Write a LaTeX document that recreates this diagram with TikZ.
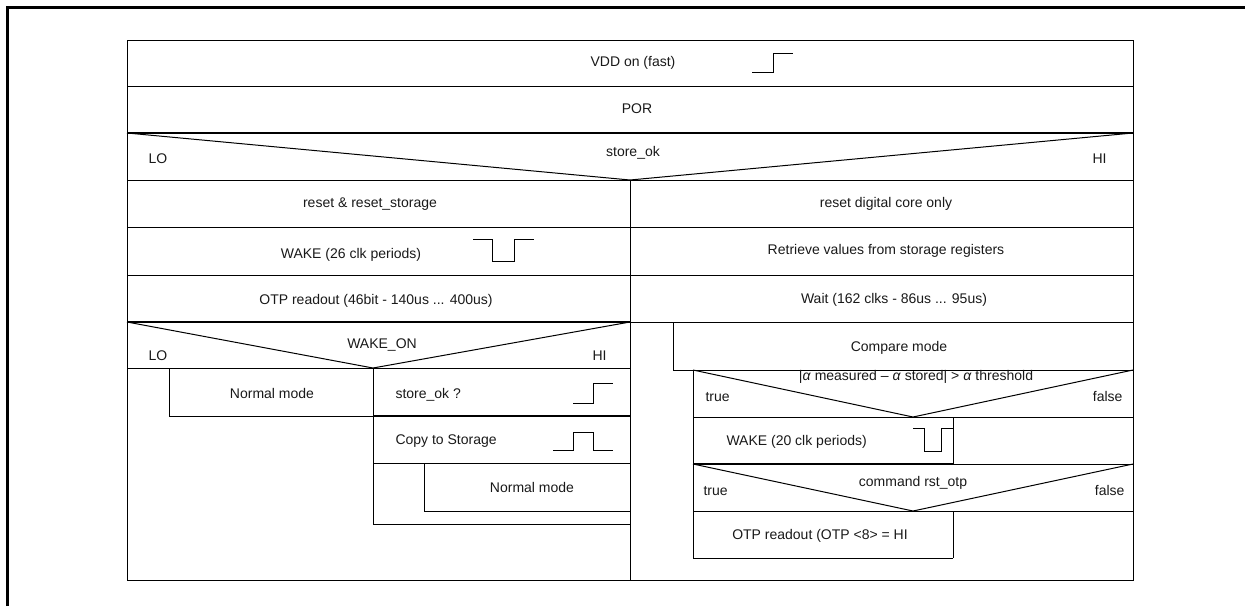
\documentclass[tikz,border=0pt]{standalone}
\usepackage{fontspec}
\setmainfont{Liberation Sans}
\begin{document}
\begin{tikzpicture}[x=1pt,y=-1pt,line width=1pt,
  lbl/.style={inner sep=0pt,text=black!90,font=\fontsize{14}{16}\selectfont},
  thk/.style={line width=1.8pt},
  frame/.style={line width=3pt},
  sig/.style={line width=1pt}]
\useasboundingbox (0,0) rectangle (1245,606);
% outer frame (top and left only)
\draw[frame] (7,606) -- (7,7) -- (1245,7);
% main box
\draw (127,40) rectangle (1133,580);
\draw (127,86) -- (1133,86);
\draw[thk] (127,133) -- (1133,133);
% store_ok decision
\coordinate (d1l) at (127,133);
\coordinate (d1r) at (1133,133);
\coordinate (d1a) at (630,180);
\draw (d1l) -- (d1a) -- (d1r);
\draw (127,180) -- (1133,180);
\draw (630,180) -- (630,580);
\draw (127,227) -- (1133,227);
\draw (127,275) -- (1133,275);
\draw[thk] (127,322) -- (630,322);
\draw (630,322) -- (1133,322);
% WAKE_ON decision
\coordinate (d2l) at (127,322);
\coordinate (d2r) at (630,322);
\coordinate (d2a) at (373,368);
\draw (d2l) -- (d2a) -- (d2r);
\draw (127,368) -- (630,368);
% left branch
\draw (169,368) -- (169,416) -- (373,416);
\draw (373,368) -- (373,524) -- (630,524);
\draw[thk] (373,416) -- (630,416);
\draw (373,463) -- (630,463);
\draw (424,463) -- (424,511) -- (630,511);
% right branch
\draw (673,322) -- (673,370) -- (1133,370);
\draw (693,370) -- (693,558) -- (953,558);
\coordinate (d3l) at (693,370);
\coordinate (d3r) at (1133,370);
\coordinate (d3a) at (913,417);
\draw (d3l) -- (d3a) -- (d3r);
\draw (693,417) -- (1133,417);
\draw (953,417) -- (953,464);
\draw[thk] (693,464) -- (953,464);
\draw (953,464) -- (1133,464);
\coordinate (d4l) at (693,464);
\coordinate (d4r) at (1133,464);
\coordinate (d4a) at (913,511);
\draw (d4l) -- (d4a) -- (d4r);
\draw (693,511) -- (1133,511);
\draw (953,511) -- (953,558);
% signal symbols
\draw[sig] (752,72) -- (773,72) -- (773,53) -- (793,53);
\draw[sig] (473,239) -- (492,239) -- (492,261) -- (514,261) -- (514,239) -- (534,239);
\draw[sig] (573,403) -- (593,403) -- (593,383) -- (613,383);
\draw[sig] (553,450) -- (573,450) -- (573,432) -- (593,432) -- (593,450) -- (613,450);
\draw[sig] (913,428) -- (924,428) -- (924,451) -- (941,451) -- (941,428) -- (953,428);
% texts
\node[lbl,anchor=base] (vdd) at (633,66) {VDD on (fast)};
\node[lbl,anchor=base] (por) at (637,113) {POR};
\node[lbl,anchor=base] (sok) at (633,156) {store\_ok};
\node[lbl,anchor=base west] (lo1) at (148,163) {LO};
\node[lbl,anchor=base east] (hi1) at (1107,163) {HI};
\node[lbl,anchor=base] (rst) at (370,207) {reset \& reset\_storage};
\node[lbl,anchor=base] (rdc) at (886,207) {reset digital core only};
\node[lbl,anchor=base] (wk26) at (351,258) {WAKE (26 clk periods)};
\node[lbl,anchor=base] (ret) at (886,254) {Retrieve values from storage registers};
\node[lbl,anchor=base] (otp1) at (376,304) {OTP readout (46bit - 140us ... 400us)};
\node[lbl,anchor=base] (wait) at (894,303) {Wait (162 clks - 86us ... 95us)};
\node[lbl,anchor=base] (wkon) at (382,348) {WAKE\_ON};
\node[lbl,anchor=base west] (lo2) at (148,360) {LO};
\node[lbl,anchor=base east] (hi2) at (607,360) {HI};
\node[lbl,anchor=base] (cmp) at (899,351) {Compare mode};
\node[lbl,anchor=base] (nm1) at (272,398) {Normal mode};
\node[lbl,anchor=base west] (sokq) at (395,398) {store\_ok ?};
\node[lbl,anchor=base west] (copy) at (395,444) {Copy to Storage};
\node[lbl,anchor=base] (nm2) at (532,492) {Normal mode};
\node[lbl,anchor=base] (alpha) at (916,380) {|\textit{α} measured – \textit{α} stored| > \textit{α} threshold};
\node[lbl,anchor=base west] (t1) at (705,401) {true};
\node[lbl,anchor=base east] (f1) at (1123,401) {false};
\node[lbl,anchor=base west] (wk20) at (726,445) {WAKE (20 clk periods)};
\node[lbl,anchor=base] (crst) at (913,486) {command rst\_otp};
\node[lbl,anchor=base west] (t2) at (703,495) {true};
\node[lbl,anchor=base east] (f2) at (1125,495) {false};
\node[lbl,anchor=base] (otp2) at (820,539) {OTP readout (OTP <8> = HI};
\end{tikzpicture}
\end{document}
